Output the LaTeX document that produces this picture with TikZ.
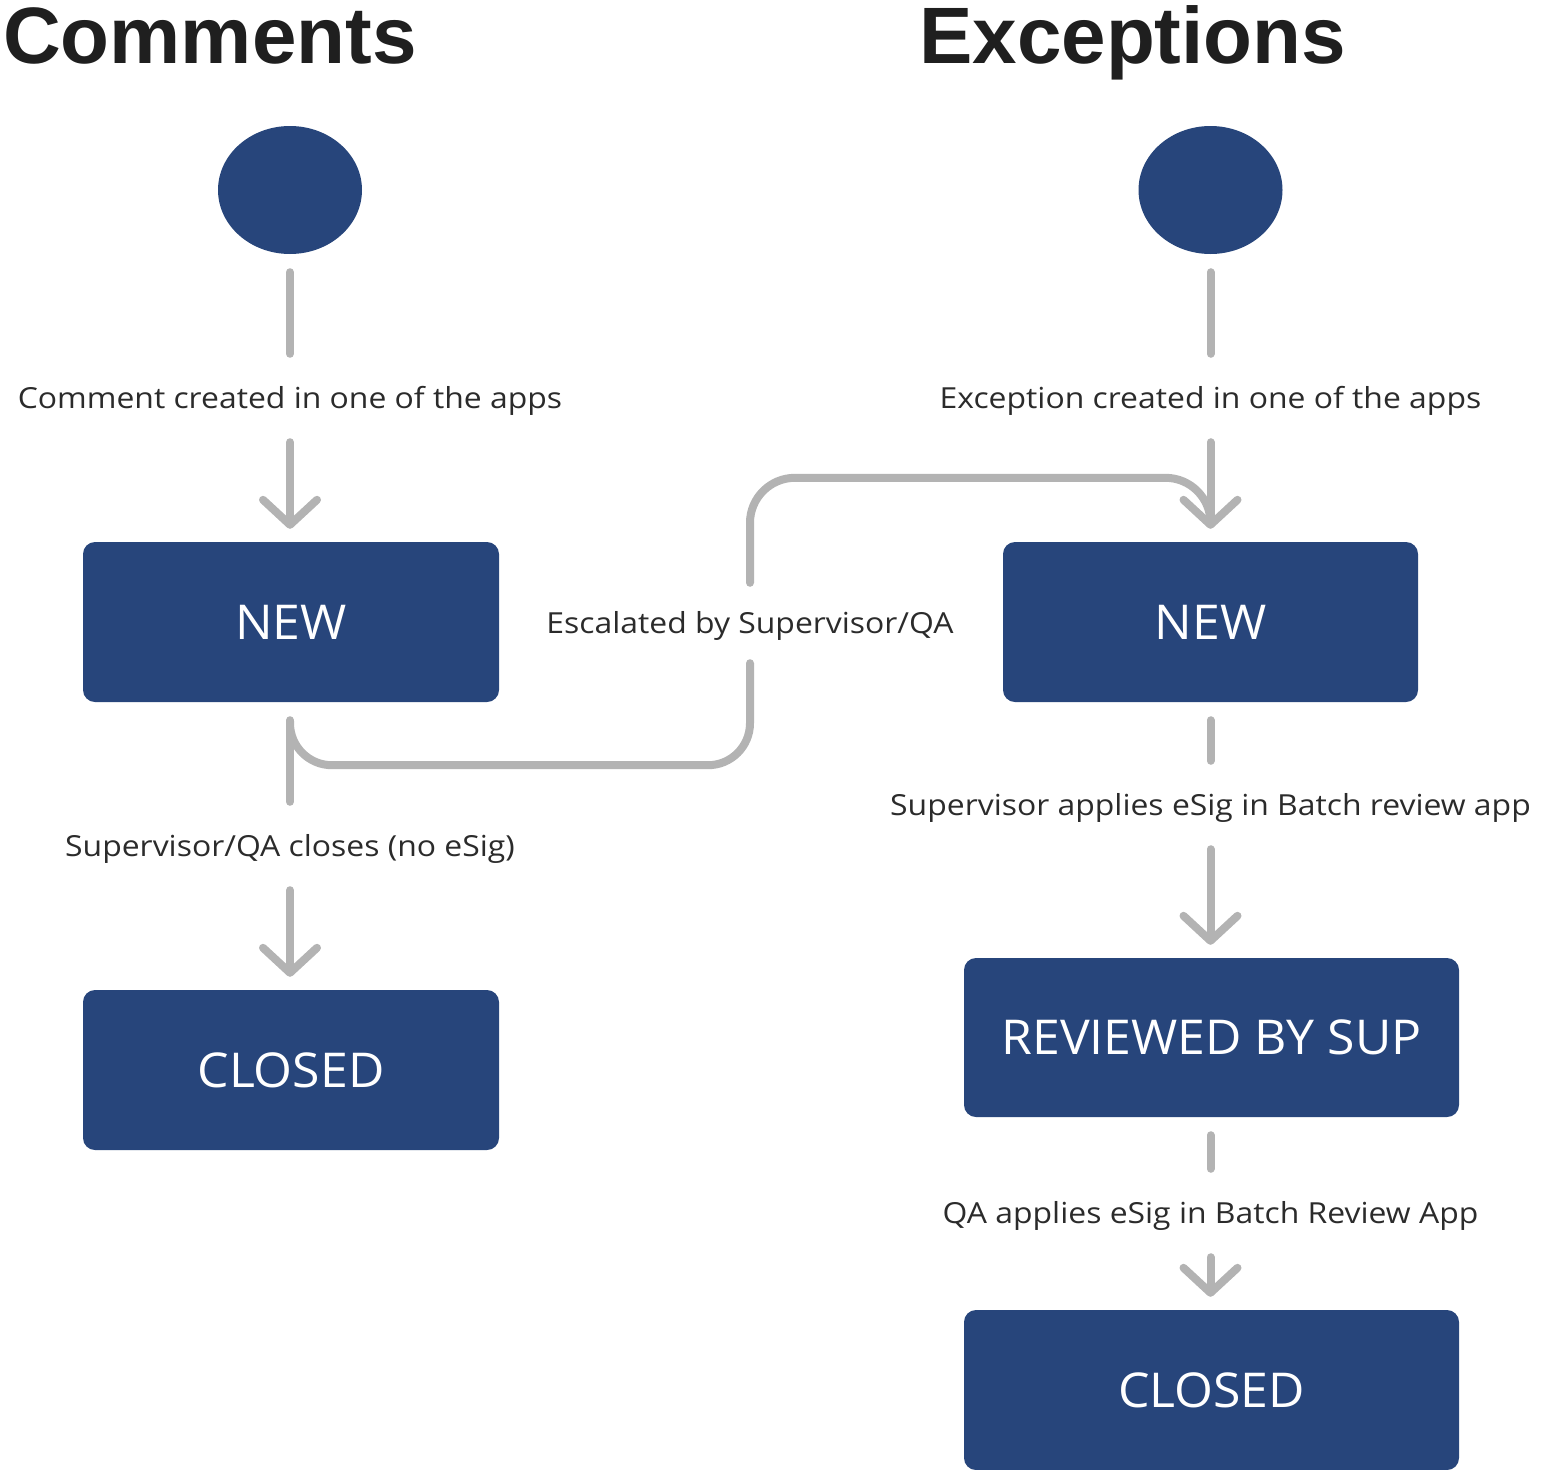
\documentclass[tikz,border=0pt]{standalone}
\usepackage{fontspec}
\setmainfont{Open Sans}
\newfontfamily\lblfont[FakeStretch=1.1]{Open Sans}
\newfontfamily\boxfont[FakeStretch=1.04]{Open Sans}
\newfontfamily\titlefont{Liberation Sans}
\usetikzlibrary{calc,arrows.meta,shapes.geometric}
\definecolor{boxblue}{HTML}{27457B}
\definecolor{linegray}{HTML}{B3B3B3}
\definecolor{txt}{HTML}{2B2B2B}
\definecolor{titlecol}{HTML}{1F1F1F}
\begin{document}
\begin{tikzpicture}[x=1pt,y=-1pt,
  state/.style={fill=boxblue, rounded corners=12pt, text=white, font=\boxfont\fontsize{48}{56}\selectfont,
    minimum width=416pt, minimum height=160pt, inner sep=0pt, text height=34pt, text depth=0pt},
  startnode/.style={ellipse, fill=boxblue, minimum width=144pt, minimum height=128pt, inner sep=0pt},
  lbl/.style={text=txt, font=\lblfont\fontsize{29}{34}\selectfont, inner sep=0pt, minimum height=88pt,
    text height=21pt, text depth=0pt},
  conn/.style={draw=linegray, line width=8pt, line cap=round, line join=round, shorten <=18pt},
  arr/.style={draw=linegray, line width=8pt, line cap=round, line join=round,
    -{Straight Barb[length=25pt, width=54pt, round]}, shorten >=13pt},
  ttl/.style={font=\titlefont\bfseries\fontsize{80}{90}\selectfont, text=titlecol, inner sep=0pt, anchor=base west}
]
\useasboundingbox (0,0) rectangle (1556,1470);

% titles
\node[ttl] (t1) at (3,63) {Comments};
\node[ttl] (t2) at (919,63) {Exceptions};

% comments column
\node[startnode] (s1) at (290,190) {};
\node[lbl] (l1) at (290,398) {Comment created in one of the apps};
\node[state] (n1) at (291,622) {NEW};
\node[lbl] (l3) at (290,846) {Supervisor/QA closes (no eSig)};
\node[state] (c1) at (291,1070) {CLOSED};

% exceptions column
\node[startnode] (s2) at (1210.5,190) {};
\node[lbl] (e1) at (1210.5,398) {Exception created in one of the apps};
\node[state, minimum width=415pt] (n2) at (1210.5,622) {NEW};
\node[lbl] (l4) at (1210.5,805) {Supervisor applies eSig in Batch review app};
\node[state, minimum width=495pt, minimum height=159pt] (r2) at (1211.5,1037.5) {REVIEWED BY SUP};
\node[lbl] (l5) at (1210.5,1213) {QA applies eSig in Batch Review App};
\node[state, minimum width=495pt] (c2) at (1211.5,1390) {CLOSED};

% escalation label
\node[lbl, minimum height=80pt] (esc) at (750,623) {Escalated by Supervisor/QA};

% connectors comments
\draw[conn] (s1.south) -- (l1.north);
\draw[arr] (l1.south) -- (l1.south |- n1.north);
\draw[conn] (l1.south |- n1.south) -- (l3.north);
\draw[arr] (l3.south) -- (l3.south |- c1.north);

% connectors exceptions
\draw[conn] (s2.south) -- (e1.north);
\draw[arr] (e1.south) -- (e1.south |- n2.north);
\draw[conn] (e1.south |- n2.south) -- (l4.north);
\draw[arr] (l4.south) -- (l4.south |- r2.north);
\draw[conn] (l4.south |- r2.south) -- (l5.north);
\draw[arr] (l5.south) -- (l5.south |- c2.north);

% escalation
\draw[conn, shorten <=0pt, rounded corners=42pt] ([yshift=-19pt]l1.south |- n1.south) |- ([yshift=-102pt]esc.south) -- (esc.south);
\draw[conn, shorten <=0pt, rounded corners=45pt] (esc.north) |- ([yshift=64pt]e1.south |- n2.north) -- ([yshift=19pt]e1.south |- n2.north);
\end{tikzpicture}
\end{document}
